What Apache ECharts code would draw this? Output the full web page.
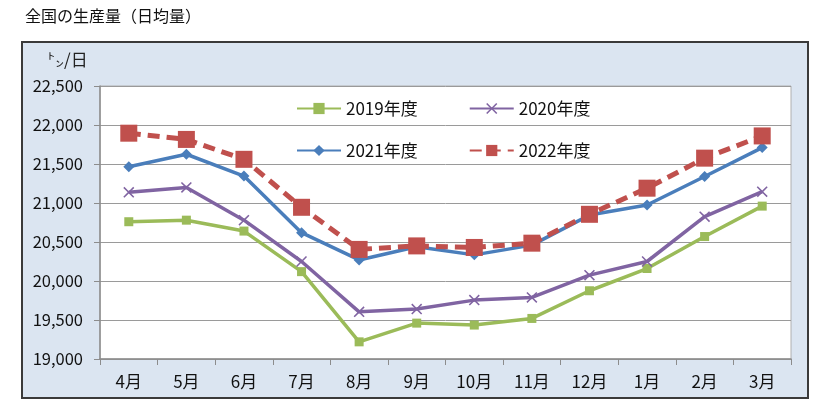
<!DOCTYPE html>
<html>
<head>
<meta charset="utf-8">
<script src="https://cdn.jsdelivr.net/npm/echarts@6/dist/echarts.min.js"></script>
<style>
  html, body { margin: 0; padding: 0; background: #fff; }
  #chart { width: 827px; height: 420px; }
</style>
</head>
<body>
<div id="chart"></div>
<script>
const months = ['4月', '5月', '6月', '7月', '8月', '9月', '10月', '11月', '12月', '1月', '2月', '3月']
const fy2019 = [20760, 20780, 20640, 20120, 19220, 19460, 19435, 19520, 19875, 20160, 20570, 20960]
const fy2020 = [21137, 21200, 20780, 20250, 19605, 19640, 19755, 19790, 20075, 20250, 20825, 21145]
const fy2021 = [21465, 21625, 21345, 20620, 20270, 20440, 20335, 20460, 20845, 20975, 21340, 21710]
const fy2022 = [21895, 21815, 21560, 20945, 20405, 20450, 20430, 20485, 20855, 21190, 21575, 21860]

const font = "'Noto Sans CJK JP', sans-serif"
const cross = 'path://M0,1L1,0L5,4L9,0L10,1L6,5L10,9L9,10L5,6L1,10L0,9L4,5Z'

const chart = echarts.init(document.getElementById('chart'))

chart.setOption({
  animation: false,
  textStyle: { fontFamily: font },
  title: {
    text: '全国の生産量（日均量）',
    left: 25,
    top: 8,
    padding: 0,
    textStyle: { fontSize: 16, fontWeight: 'normal', color: '#111', fontFamily: font }
  },
  graphic: [
    {
      type: 'rect',
      z: -10,
      shape: { x: 22, y: 42, width: 786, height: 356 },
      style: { fill: '#dbe5f1', stroke: '#3a3a3a', lineWidth: 2 }
    },
    {
      type: 'text',
      left: 47,
      top: 51,
      style: { text: '㌧/日', fill: '#222', font: '17px ' + font }
    }
  ],
  legend: [
    {
      left: 296,
      top: 100,
      padding: 0,
      itemWidth: 44,
      itemHeight: 14,
      itemGap: 51,
      textStyle: { fontSize: 17, color: '#111', fontFamily: font },
      data: ['2019年度', '2020年度']
    },
    {
      left: 296,
      top: 142,
      padding: 0,
      itemWidth: 44,
      itemHeight: 14,
      itemGap: 51,
      textStyle: { fontSize: 17, color: '#111', fontFamily: font },
      data: ['2021年度', '2022年度']
    }
  ],
  grid: {
    left: 100,
    right: 36,
    top: 86,
    bottom: 61,
    show: true,
    backgroundColor: '#fff',
    borderColor: '#b0b0b0',
    borderWidth: 1
  },
  xAxis: {
    type: 'category',
    data: months,
    boundaryGap: true,
    axisLine: { lineStyle: { color: '#8c8c8c', width: 1.5 } },
    axisTick: { show: true, length: 6, lineStyle: { color: '#8c8c8c' } },
    axisLabel: { fontSize: 17, color: '#111', margin: 14 }
  },
  yAxis: {
    type: 'value',
    min: 19000,
    max: 22500,
    interval: 500,
    axisLine: { show: true, lineStyle: { color: '#8c8c8c', width: 1.5 } },
    axisTick: { show: true, length: 6, lineStyle: { color: '#8c8c8c' } },
    axisLabel: {
      fontSize: 16.5,
      color: '#111',
      margin: 17,
      formatter: function(v) {
        return v.toLocaleString('en-US')
      }
    },
    splitLine: { lineStyle: { color: '#9a9a9a', width: 1 } }
  },
  series: [
    {
      name: '2019年度',
      type: 'line',
      data: fy2019,
      symbol: 'rect',
      symbolSize: 9,
      color: '#9bbb59',
      lineStyle: { width: 3.5 }
    },
    {
      name: '2020年度',
      type: 'line',
      data: fy2020,
      symbol: cross,
      symbolSize: 11,
      color: '#8064a2',
      lineStyle: { width: 3.5 }
    },
    {
      name: '2021年度',
      type: 'line',
      data: fy2021,
      symbol: 'diamond',
      symbolSize: 11,
      color: '#4a7ebb',
      lineStyle: { width: 3.5 }
    },
    {
      name: '2022年度',
      type: 'line',
      data: fy2022,
      symbol: 'rect',
      symbolSize: 17,
      color: '#c0504d',
      lineStyle: { width: 5, type: [12, 7] }
    }
  ]
})
</script>
</body>
</html>
